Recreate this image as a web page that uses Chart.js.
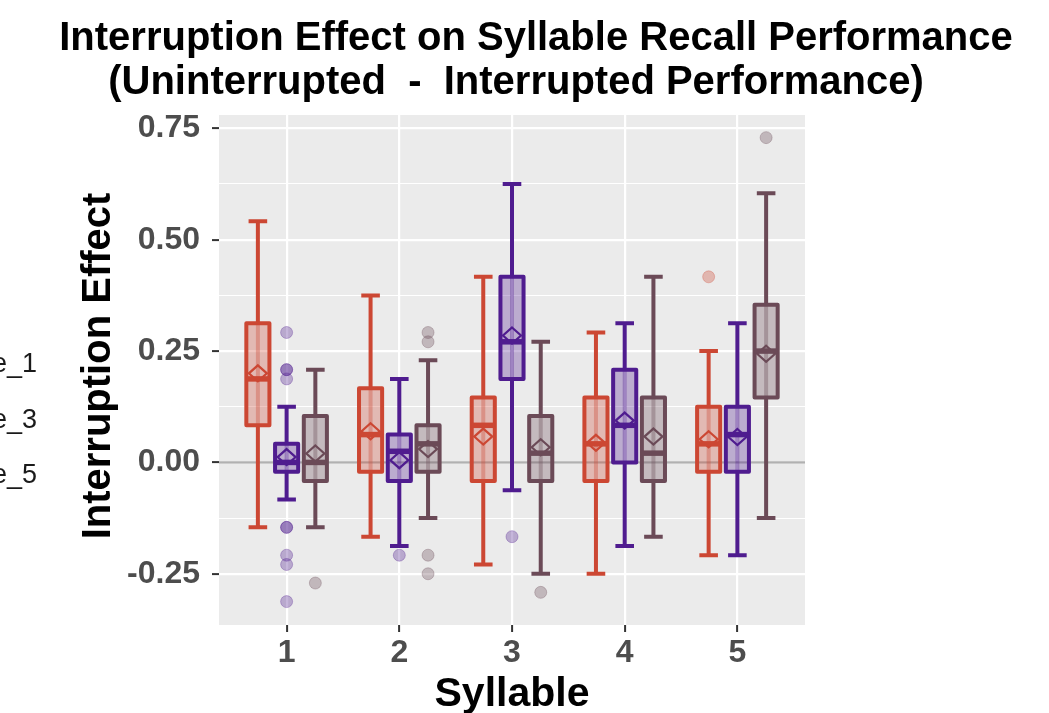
<!DOCTYPE html>
<html><head><meta charset="utf-8">
<script src="https://cdn.jsdelivr.net/npm/chart.js@4.4.1/dist/chart.umd.min.js"></script>
<style>html,body{margin:0;padding:0;background:#fff;}#wrap{width:1049px;height:713px;}</style>
</head><body><div id="wrap"><canvas id="c" width="1049" height="713"></canvas></div>
<script>
// ---------- data ----------
const categories = [1, 2, 3, 4, 5];
const seriesLabels = ['e_1', 'e_3', 'e_5'];
const yMajorTicks = [-0.25, 0, 0.25, 0.5, 0.75];
const yMinorTicks = [-0.125, 0.125, 0.375, 0.625];

// series 1 (red)
const s1Low    = [-0.1458, -0.1667, -0.2292, -0.25,   -0.2083];
const s1Q1     = [ 0.0833, -0.0208, -0.0417, -0.0417, -0.0208];
const s1Median = [ 0.1875,  0.0625,  0.0833,  0.0417,  0.0417];
const s1Q3     = [ 0.3125,  0.1667,  0.1458,  0.1458,  0.125];
const s1High   = [ 0.5417,  0.375,   0.4167,  0.2917,  0.25];
const s1Mean   = [ 0.200,   0.070,   0.058,   0.044,   0.052];
const s1Outliers = [[5, 0.4167]];

// series 2 (purple)
const s2Low    = [-0.0833, -0.1875, -0.0625, -0.1875, -0.2083];
const s2Q1     = [-0.0208, -0.0417,  0.1875,  0.0,    -0.0208];
const s2Median = [ 0.0,     0.025,   0.2708,  0.0833,  0.0625];
const s2Q3     = [ 0.0417,  0.0625,  0.4167,  0.2083,  0.125];
const s2High   = [ 0.125,   0.1875,  0.625,   0.3125,  0.3125];
const s2Mean   = [ 0.012,   0.005,   0.285,   0.094,   0.057];
const s2Outliers = [[1, 0.2917], [1, 0.2083], [1, 0.2083], [1, 0.1875], [1, -0.1458], [1, -0.1458],
                    [1, -0.2083], [1, -0.2292], [1, -0.3125], [2, -0.2083], [3, -0.1667]];

// series 3 (brown)
const s3Low    = [-0.1458, -0.125,  -0.25,   -0.1667, -0.125];
const s3Q1     = [-0.0417, -0.0208, -0.0417, -0.0417,  0.1458];
const s3Median = [ 0.0,     0.0417,  0.0208,  0.0208,  0.25];
const s3Q3     = [ 0.1042,  0.0833,  0.1042,  0.1458,  0.3542];
const s3High   = [ 0.2083,  0.2292,  0.2708,  0.4167,  0.6042];
const s3Mean   = [ 0.020,   0.030,   0.034,   0.058,   0.244];
const s3Outliers = [[1, -0.2708], [2, 0.2917], [2, 0.2708], [2, -0.2083], [2, -0.25], [3, -0.2917], [5, 0.7292]];

// ---------- styling ----------
const COLORS = [[204, 71, 51], [79, 28, 143], [107, 74, 87]];
const rgba = (c, a) => `rgba(${c[0]},${c[1]},${c[2]},${a})`;
const DODGE = [-0.255, 0, 0.255];
const BOX_W = 0.205, CAP_W = 0.165;
const FONT = '"Liberation Sans", Arial, Helvetica, sans-serif';

const series = [
  {lo: s1Low, q1: s1Q1, med: s1Median, q3: s1Q3, hi: s1High, mean: s1Mean, out: s1Outliers},
  {lo: s2Low, q1: s2Q1, med: s2Median, q3: s2Q3, hi: s2High, mean: s2Mean, out: s2Outliers},
  {lo: s3Low, q1: s3Q1, med: s3Median, q3: s3Q3, hi: s3High, mean: s3Mean, out: s3Outliers}
];

Chart.defaults.font.family = FONT;

const boxPlugin = {
  id: 'boxes',
  beforeDraw(chart) {
    const {ctx, chartArea: a} = chart;
    ctx.save();
    ctx.fillStyle = '#ffffff';
    ctx.fillRect(0, 0, chart.width, chart.height);
    ctx.fillStyle = '#EBEBEB';
    ctx.fillRect(a.left, a.top, a.right - a.left, a.bottom - a.top);
    ctx.restore();
  },
  beforeDatasetsDraw(chart) {
    const {ctx, chartArea: a, scales: {x, y}} = chart;
    ctx.save();
    // zero reference line
    ctx.strokeStyle = 'rgba(100,100,100,0.5)';
    ctx.lineWidth = 2.2;
    ctx.beginPath();
    ctx.moveTo(a.left, y.getPixelForValue(0));
    ctx.lineTo(a.right, y.getPixelForValue(0));
    ctx.stroke();

    const unit = x.getPixelForValue(1) - x.getPixelForValue(0);
    const hw = BOX_W / 2 * unit, cw = CAP_W / 2 * unit;
    series.forEach((s, si) => {
      const col = COLORS[si];
      categories.forEach((c, ci) => {
        const cx = x.getPixelForValue(c + DODGE[si]);
        const pLo = y.getPixelForValue(s.lo[ci]);
        const pQ1 = y.getPixelForValue(s.q1[ci]);
        const pMed = y.getPixelForValue(s.med[ci]);
        const pQ3 = y.getPixelForValue(s.q3[ci]);
        const pHi = y.getPixelForValue(s.hi[ci]);
        const pMean = y.getPixelForValue(s.mean[ci]);
        ctx.lineCap = 'butt';
        // whiskers
        ctx.strokeStyle = rgba(col, 1);
        ctx.lineWidth = 4;
        ctx.beginPath();
        ctx.moveTo(cx, pHi); ctx.lineTo(cx, pQ3);
        ctx.moveTo(cx, pQ1); ctx.lineTo(cx, pLo);
        ctx.moveTo(cx - cw, pHi); ctx.lineTo(cx + cw, pHi);
        ctx.moveTo(cx - cw, pLo); ctx.lineTo(cx + cw, pLo);
        ctx.stroke();
        // box fill
        ctx.fillStyle = rgba(col, 0.3);
        ctx.fillRect(cx - hw, pQ3, 2 * hw, pQ1 - pQ3);
        // inner whisker strip
        ctx.strokeStyle = rgba(col, 0.35);
        ctx.lineWidth = 4;
        ctx.beginPath();
        ctx.moveTo(cx, pQ3); ctx.lineTo(cx, pQ1);
        ctx.stroke();
        // mean diamond
        ctx.strokeStyle = rgba(col, 1);
        ctx.lineWidth = 2.2;
        ctx.lineJoin = 'miter';
        ctx.beginPath();
        ctx.moveTo(cx, pMean - 8);
        ctx.lineTo(cx + 9, pMean);
        ctx.lineTo(cx, pMean + 8);
        ctx.lineTo(cx - 9, pMean);
        ctx.closePath();
        ctx.stroke();
        // box border
        ctx.lineWidth = 4;
        ctx.lineJoin = 'round';
        ctx.strokeRect(cx - hw, pQ3, 2 * hw, pQ1 - pQ3);
        // median
        ctx.lineWidth = 5.5;
        ctx.beginPath();
        ctx.moveTo(cx - hw, pMed); ctx.lineTo(cx + hw, pMed);
        ctx.stroke();
      });
    });
    ctx.restore();
  },
  afterDraw(chart) {
    const {ctx, chartArea: a} = chart;
    ctx.save();
    ctx.fillStyle = '#000';
    ctx.textAlign = 'center';
    ctx.textBaseline = 'alphabetic';
    ctx.font = `bold 40px ${FONT}`;
    ctx.fillText('Interruption Effect on Syllable Recall Performance', 536, 50);
    ctx.fillText('(Uninterrupted  -  Interrupted Performance)', 516, 94);
    // axis titles
    ctx.font = `bold 41px ${FONT}`;
    ctx.fillText('Syllable', (a.left + a.right) / 2, 706);
    ctx.font = `bold 40px ${FONT}`;
    ctx.save();
    ctx.translate(110, 366);
    ctx.rotate(-Math.PI / 2);
    ctx.fillText('Interruption Effect', 0, 0);
    ctx.restore();
    // legend labels (cut off at left edge)
    ctx.font = `27px ${FONT}`;
    ctx.fillStyle = '#1A1A1A';
    ctx.textAlign = 'right';
    const legendY = [372, 428, 483];
    seriesLabels.forEach((t, i) => ctx.fillText(t, 37, legendY[i]));
    ctx.restore();
  }
};

const datasets = series.map((s, si) => ({
  label: seriesLabels[si],
  data: s.out.map(([c, v]) => ({x: c + DODGE[si], y: v})),
  pointRadius: 6,
  pointHoverRadius: 6,
  backgroundColor: rgba(COLORS[si], 0.32),
  borderColor: rgba(COLORS[si], 0.3),
  borderWidth: 1
}));

const allYTicks = [...yMajorTicks, ...yMinorTicks].sort((a, b) => a - b);
const isMajor = v => yMajorTicks.includes(v);

new Chart(document.getElementById('c'), {
  type: 'scatter',
  data: {datasets},
  options: {
    responsive: false,
    animation: false,
    devicePixelRatio: 1,
    layout: {padding: {left: 0, right: 244, top: 115, bottom: 0}},
    plugins: {legend: {display: false}, title: {display: false}, tooltip: {enabled: false}},
    scales: {
      x: {
        type: 'linear', min: 0.4, max: 5.6,
        afterBuildTicks: s => { s.ticks = categories.map(v => ({value: v})); },
        afterFit: s => { s.height = 88; },
        ticks: {callback: v => String(v), font: {size: 32, weight: 'bold'}, color: '#4D4D4D',
                padding: 2, autoSkip: false, maxRotation: 0},
        grid: {color: '#FFFFFF', lineWidth: 2.2, tickColor: '#333333', tickLength: 7, tickWidth: 2},
        border: {display: false}
      },
      y: {
        type: 'linear', min: -0.365, max: 0.78,
        afterBuildTicks: s => { s.ticks = allYTicks.map(v => ({value: v})); },
        afterFit: s => { s.width = 219; },
        ticks: {callback: v => isMajor(v) ? v.toFixed(2) : '', font: {size: 32, weight: 'bold'},
                color: '#4D4D4D', padding: 12, autoSkip: false},
        grid: {
          color: '#FFFFFF',
          lineWidth: c => (c.tick && isMajor(c.tick.value)) ? 2.2 : 1.1,
          tickColor: c => (c.tick && isMajor(c.tick.value)) ? '#333333' : 'rgba(0,0,0,0)',
          tickLength: 7, tickWidth: 2
        },
        border: {display: false}
      }
    }
  },
  plugins: [boxPlugin]
});
</script>
</body></html>
